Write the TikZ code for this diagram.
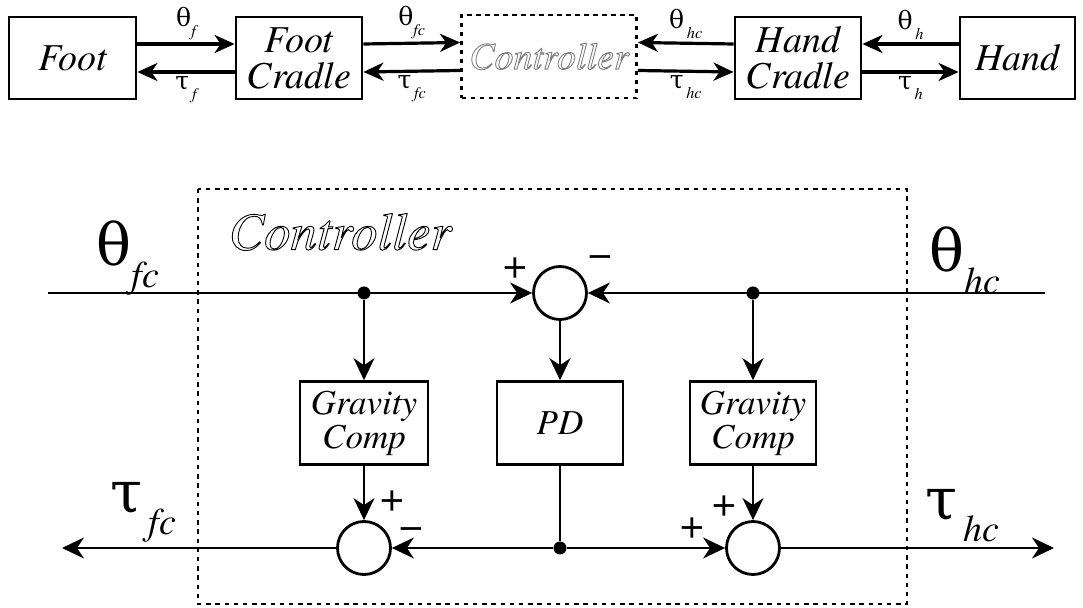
\documentclass[tikz,border=0pt]{standalone}
\usepackage{fontspec}
\setmainfont{TeX Gyre Termes}
\newfontfamily\grk{DejaVu Serif}
\usepackage{graphicx}
\usetikzlibrary{arrows.meta,positioning,calc}

% outlined lettering, greek letters and dropped subscripts
\newcommand\hollow[1]{\special{pdf:code 1 Tr 0.45 w}#1\special{pdf:code 0 Tr}}
\newcommand\lowsub[1]{\raisebox{-0.38em}{\scalebox{0.65}{\itshape #1}}}
\newcommand\thta{{\grk θ}}
\newcommand\tauu{{\grk τ}}

\tikzset{
  plant/.style={draw, line width=1.4pt, minimum height=41pt, minimum width=#1,
                inner sep=0pt, align=center, font=\fontsize{19}{18}\selectfont\itshape},
  ctrltop/.style={draw, line width=1.4pt, dash pattern=on 2.2pt off 2.3pt,
                  minimum height=41.5pt, minimum width=87.5pt, inner sep=0pt,
                  font=\fontsize{19}{19}\selectfont\itshape},
  toparr/.style={-{Stealth[length=10pt,width=9pt,inset=3pt]}, line width=1.6pt},
  toplbl/.style={font=\fontsize{12.5}{12.5}\selectfont, inner sep=1.5pt},
  sig/.style={-{Stealth[length=11pt,width=10.5pt,inset=3.5pt]}, line width=1.1pt},
  sumc/.style={circle, draw, line width=1.4pt, minimum size=26.5pt, inner sep=0pt},
  junc/.style={circle, fill, minimum size=6.5pt, inner sep=0pt},
  cblk/.style={draw, line width=1.3pt, minimum height=41.5pt, minimum width=#1,
               inner sep=0pt, align=center, font=\fontsize{17.5}{17}\selectfont\itshape},
  dashbox/.style={draw, line width=1.3pt, dash pattern=on 2.2pt off 2.4pt},
  biglbl/.style={font=\fontsize{29}{29}\selectfont, inner sep=0pt},
  sgn/.style={font=\fontsize{21}{21}\selectfont, inner sep=0pt},
}

\begin{document}
\begin{tikzpicture}[x=0.5pt,y=-0.5pt]
  \useasboundingbox (0,0) rectangle (1083,608);

  % top row: foot -- cradle -- controller -- cradle -- hand
  \node[plant=63.5pt] (foot)  at (72.5,58) {Foot};
  \node[plant=63pt]   (fcrad) at (299,58)  {Foot\\Cradle};
  \node[ctrltop]      (ctrl)  at (549,56.5) {\color{gray}\hollow{Controller}};
  \node[plant=63pt]   (hcrad) at (798,58)  {Hand\\Cradle};
  \node[plant=57.5pt] (hand)  at (1017.5,58) {Hand};

  \draw[toparr] ([yshift=7pt]foot.east) -- node[above,toplbl]{\thta\lowsub{f}} ([yshift=7pt]fcrad.west);
  \draw[toparr] ([yshift=-7pt]fcrad.west) -- node[below,toplbl]{\tauu\lowsub{\,f}} ([yshift=-7pt]foot.east);
  \draw[toparr] ([yshift=7pt]fcrad.east) -- node[above,toplbl]{\thta\lowsub{fc}} ([yshift=7pt]ctrl.west);
  \draw[toparr] ([yshift=-7pt]ctrl.west) -- node[below,toplbl]{\tauu\lowsub{\,fc}} ([yshift=-7pt]fcrad.east);
  \draw[toparr] ([yshift=7pt]hcrad.west) -- node[above,toplbl]{\thta\lowsub{\,hc}} ([yshift=7pt]ctrl.east);
  \draw[toparr] ([yshift=-7pt]ctrl.east) -- node[below,toplbl]{\tauu\lowsub{\,hc}} ([yshift=-7pt]hcrad.west);
  \draw[toparr] ([yshift=7pt]hand.west) -- node[above,toplbl]{\thta\lowsub{\,h}} ([yshift=7pt]hcrad.east);
  \draw[toparr] ([yshift=-7pt]hcrad.east) -- node[below,toplbl]{\tauu\lowsub{\,h}} ([yshift=-7pt]hand.west);

  % controller detail
  \draw[dashbox] (198,189) rectangle (907,604);
  \node[font=\fontsize{26.5}{26.5}\selectfont\itshape, inner sep=0pt] (ctrllbl) at (340,232) {\hollow{Controller}};

  \coordinate (thfc) at (48,293);
  \coordinate (thhc) at (1045,293);
  \coordinate (taufc) at (62,548);
  \coordinate (tauhc) at (1054,548);

  \node[sumc] (err)  at (560,293) {};
  \node[junc] (tapf) at (364,293) {};
  \node[junc] (taph) at (753,293) {};

  \node[cblk=64pt] (gcf) at (364,423) {Gravity\\Comp};
  \node[cblk=63pt] (pd)  at (560,423) {PD};
  \node[cblk=63pt] (gch) at (753,423) {Gravity\\Comp};

  \node[sumc] (sumf) at (364,548) {};
  \node[sumc] (sumh) at (753,548) {};
  \node[junc] (tapu) at (560,548) {};

  \draw[sig] (thfc) -- (err);
  \draw[sig] (thhc) -- (err);
  \draw[sig] (tapf) -- (gcf);
  \draw[sig] (taph) -- (gch);
  \draw[sig] (err) -- (pd);
  \draw[sig] (gcf) -- (sumf);
  \draw[sig] (gch) -- (sumh);
  \draw[line width=1.1pt] (pd) -- (tapu);
  \draw[sig] (tapu) -- (sumf);
  \draw[sig] (tapu) -- (sumh);
  \draw[sig] (sumf) -- (taufc);
  \draw[sig] (sumh) -- (tauhc);

  % signs at the summing points
  \node[sgn] (p1) at (515,268) {+};
  \node[sgn] (m1) at (600,262) {−};
  \node[sgn] (p2) at (392,501) {+};
  \node[sgn] (m2) at (411,534) {−};
  \node[sgn] (p3) at (724,506) {+};
  \node[sgn] (p4) at (692,528) {+};

  % port labels
  \node[biglbl] (lthfc)  at (128,258) {\thta\lowsub{fc}};
  \node[biglbl] (lthhc)  at (965,260) {\thta\lowsub{hc}};
  \node[biglbl] (ltaufc) at (143,512) {\tauu\lowsub{\,fc}};
  \node[biglbl] (ltauhc) at (962,516) {\tauu\lowsub{\,hc}};
\end{tikzpicture}
\end{document}
